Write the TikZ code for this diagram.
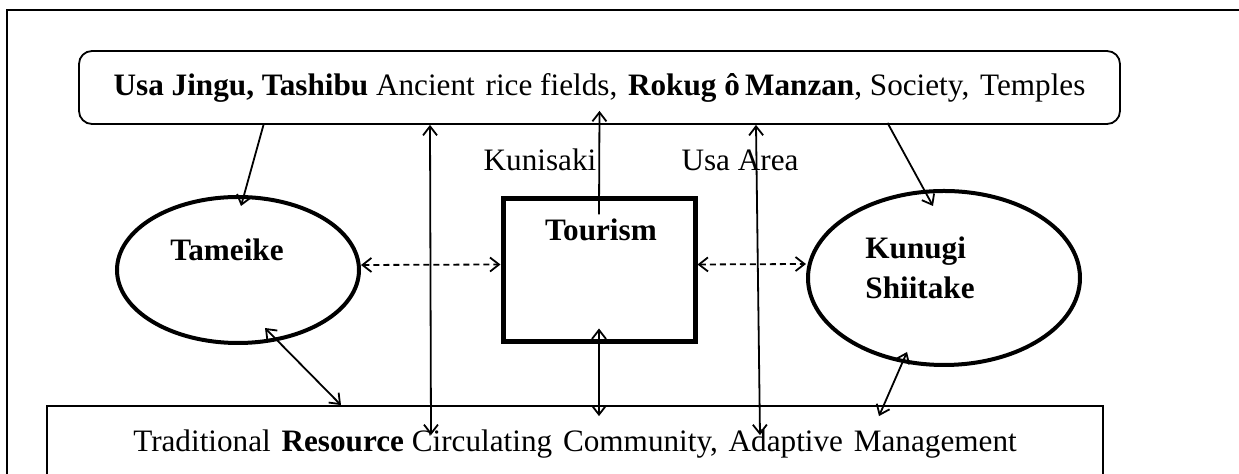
\documentclass[tikz,border=0pt]{standalone}
\usepackage{fontspec}
\setmainfont{Liberation Serif}
\usetikzlibrary{shapes.geometric,arrows.meta}

\begin{document}
\begin{tikzpicture}[x=0.5pt,y=-0.5pt,
    >={Straight Barb[length=4.5pt,width=7pt]},
    txt/.style={font=\fontsize{15.6}{20}\selectfont, inner sep=0pt},
    boldtxt/.style={txt, font=\fontsize{15.6}{20}\selectfont\bfseries},
    areabox/.style={draw, line width=0.9pt, font=\fontsize{15.6}{20}\selectfont},
    pond/.style={draw, ellipse, line width=2pt},
    link/.style={line width=0.9pt},
    dashlink/.style={line width=0.9pt, <->, dash pattern=on 3pt off 2pt}]
\useasboundingbox (0,0) rectangle (1239,474);
\clip (0,0) rectangle (1239,474);

% frame
\draw[line width=1.3pt] (7,474) -- (7,10) -- (1239,10);

% heritage on top
\node[areabox, rounded corners=6.5pt, minimum width=520.5pt, minimum height=36.5pt] (heritage) at (599.5,87.5)
  {\textbf{Usa Jingu, Tashibu} Ancient\hspace{1.5pt} rice fields,\hspace{1.5pt} \textbf{Rokug ô\,Manzan}, Society,\hspace{1.5pt} Temples};

% community at the bottom
\node[areabox, minimum width=528pt, minimum height=37.6pt] (community) at (575,443.6)
  {Traditional\hspace{1.5pt} \textbf{Resource} Circulating\hspace{1.5pt} Community,\hspace{1.5pt} Adaptive\hspace{1.5pt} Management};

% the three parts
\node[pond, minimum width=121pt, minimum height=73pt] (tameike) at (238,270) {};
\node[boldtxt, anchor=base] (tameikelbl) at (227,261) {Tameike};

\node[draw, line width=2.5pt, minimum width=96pt, minimum height=71.5pt] (tourism) at (599,270.5) {};
\node[boldtxt, anchor=base] (tourismlbl) at (601,241) {Tourism};

\node[pond, minimum width=136pt, minimum height=87pt] (kunugi) at (944,278) {};
\node[boldtxt, align=left, anchor=north west] (kunugilbl) at (865,236) {Kunugi\\Shiitake};

% area names
\node[txt, anchor=base] (kunisaki) at (540,171) {Kunisaki};
\node[txt, anchor=base] (usaarea) at (740,171) {Usa Area};

% arrows from the heritage
\draw[link, ->] ([xshift=-168pt]heritage.south) -- ([xshift=1.5pt,yshift=-5.5pt]tameike.north);
\draw[link, ->] ([xshift=144pt,yshift=1pt]heritage.south) -- ([xshift=-5.5pt,yshift=-8.5pt]kunugi.north);
\draw[link, <->] ([xshift=-84.75pt]heritage.south) -- ([xshift=-72pt,yshift=-15pt]community.north);
\draw[link, <->] ([xshift=78.25pt]heritage.south) -- ([xshift=92.5pt,yshift=-15pt]community.north);
\draw[link, ->] ([yshift=-9pt]tourism.north) -- ([yshift=7pt]heritage.south);

% links to the community
\draw[link, <->] ([yshift=8pt]tourism.south) -- ([xshift=12pt,yshift=-5.5pt]community.north);
\draw[link, <->] ([xshift=13.5pt,yshift=8.5pt]tameike.south) -- ([xshift=-117pt]community.north);
\draw[link, <->] ([xshift=-18.5pt,yshift=7.5pt]kunugi.south) -- ([xshift=152pt,yshift=-5.5pt]community.north);

% dashed links
\draw[dashlink] ([yshift=2.5pt]tameike.east) -- ([yshift=3pt]tourism.west);
\draw[dashlink] ([yshift=3pt]tourism.east) -- ([yshift=7pt]kunugi.west);
\end{tikzpicture}
\end{document}
